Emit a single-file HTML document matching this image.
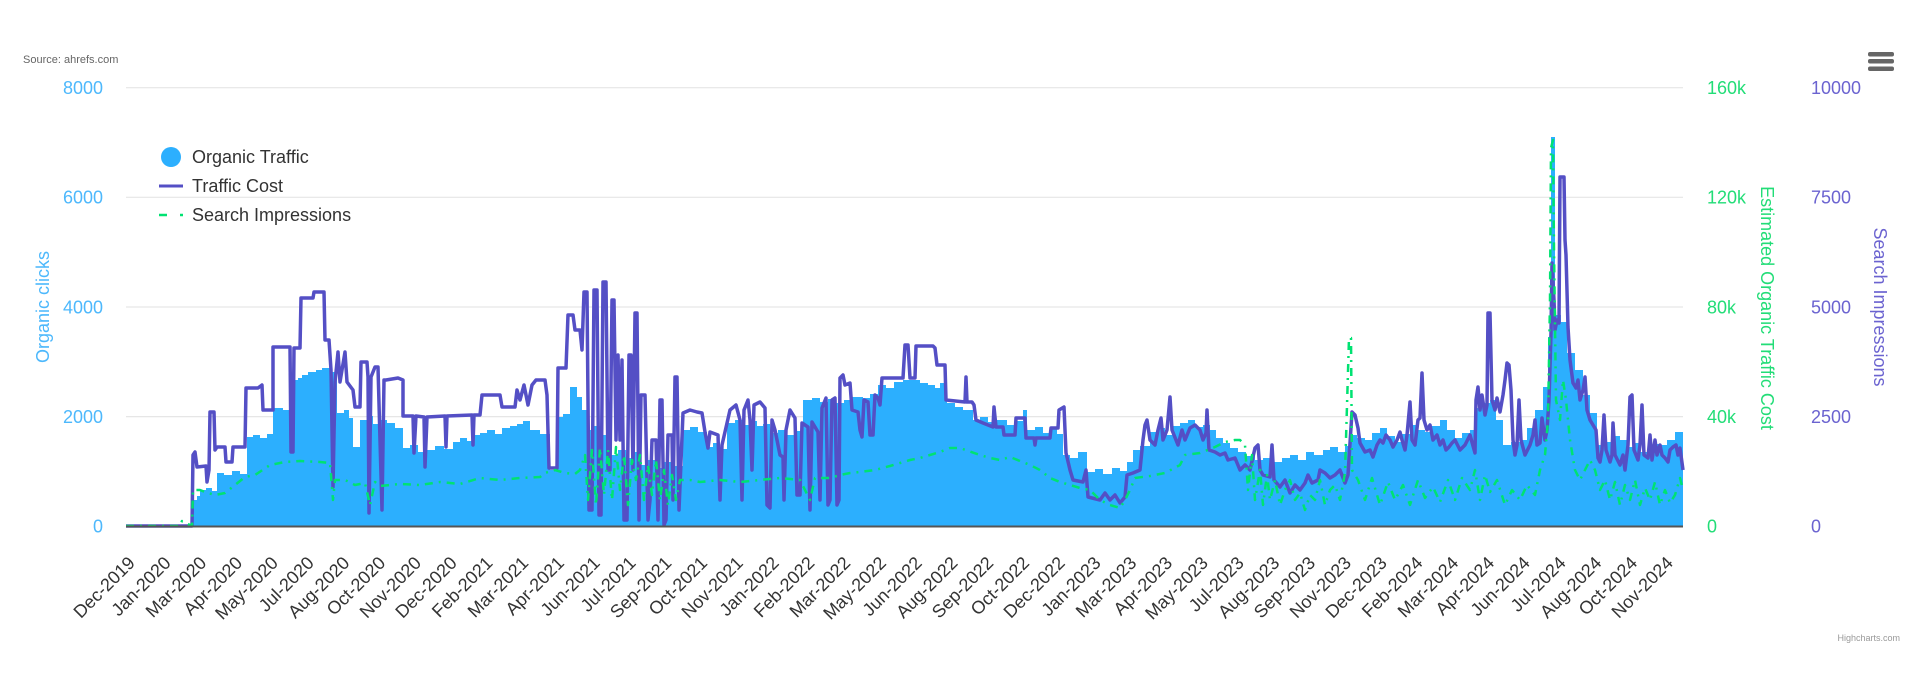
<!DOCTYPE html>
<html>
<head>
<meta charset="utf-8">
<style>
html,body{margin:0;padding:0;background:#fff;}
svg{display:block;font-family:"Liberation Sans",Arial,sans-serif;}
</style>
</head>
<body>
<svg width="1920" height="674" viewBox="0 0 1920 674" xmlns="http://www.w3.org/2000/svg">
<defs>
<pattern id="stripes" x="0" y="0" width="3" height="10" patternUnits="userSpaceOnUse">
<rect x="0" y="0" width="1" height="10" fill="#ffffff" fill-opacity="0.12"/>
</pattern>
</defs>
<rect width="1920" height="674" fill="#fff"/>

<text x="23" y="63" font-size="11" fill="#666">Source: ahrefs.com</text>

<!-- hamburger -->
<rect x="1868" y="52" width="26" height="4.5" rx="2" fill="#666"/>
<rect x="1868" y="59" width="26" height="4.5" rx="2" fill="#666"/>
<rect x="1868" y="66.5" width="26" height="4.5" rx="2" fill="#666"/>

<!-- gridlines -->
<g stroke="#e6e6e6" stroke-width="1.2">
<line x1="126" y1="87.7" x2="1683" y2="87.7"/>
<line x1="126" y1="197.3" x2="1683" y2="197.3"/>
<line x1="126" y1="307" x2="1683" y2="307"/>
<line x1="126" y1="416.6" x2="1683" y2="416.6"/>
</g>

<!-- left axis labels -->
<g font-size="18" fill="#4db8fc" text-anchor="end">
<text x="103" y="94">8000</text>
<text x="103" y="203.6">6000</text>
<text x="103" y="313.3">4000</text>
<text x="103" y="423">2000</text>
<text x="103" y="532.5">0</text>
</g>
<text transform="translate(49,307) rotate(-90)" font-size="18" fill="#4db8fc" text-anchor="middle">Organic clicks</text>

<!-- right green axis -->
<g font-size="18" fill="#22dd77">
<text x="1707" y="94">160k</text>
<text x="1707" y="203.6">120k</text>
<text x="1707" y="313.3">80k</text>
<text x="1707" y="423">40k</text>
<text x="1707" y="532.5">0</text>
</g>
<text transform="translate(1761,308) rotate(90)" font-size="18" fill="#22dd77" text-anchor="middle">Estimated Organic Traffic Cost</text>

<!-- right purple axis -->
<g font-size="18" fill="#6b63d0">
<text x="1811" y="94">10000</text>
<text x="1811" y="203.6">7500</text>
<text x="1811" y="313.3">5000</text>
<text x="1811" y="423">2500</text>
<text x="1811" y="532.5">0</text>
</g>
<text transform="translate(1874,307) rotate(90)" font-size="18" fill="#6b63d0" text-anchor="middle">Search Impressions</text>

<!-- blue columns (Organic Traffic) -->
<path id="bluearea" fill="#2caffe" d="M126,526 H193 V500 H197 V496 H200 V490 H206 V488 H212 V491 H217 V473 H224 V475 H232 V471 H240 V474 H247 V437 H253 V435 H260 V438 H267 V434 H273 V408 H283 V410 H293 V380 H298 V378 H302 V375 H308 V372 H316 V370 H322 V368 H330 V372 H337 V413 H344 V410 H349 V418 H353 V447 H360 V420 H367 V416 H373 V424 H380 V420 H387 V423 H395 V428 H403 V448 H410 V445 H418 V452 H427 V450 H435 V446 H444 V449 H453 V442 H460 V438 H467 V441 H473 V435 H480 V433 H487 V430 H495 V434 H502 V428 H510 V426 H517 V424 H523 V421 H530 V430 H540 V434 H550 V470 H557 V417 H563 V414 H570 V387 H577 V397 H582 V410 H587 V430 H594 V426 H602 V435 H610 V455 H618 V450 H626 V458 H633 V452 H640 V465 H648 V460 H656 V468 H664 V462 H672 V466 H683 V430 H690 V427 H698 V432 H707 V447 H713 V443 H720 V449 H727 V423 H735 V420 H743 V425 H750 V421 H757 V426 H763 V424 H770 V433 H778 V430 H786 V435 H795 V431 H803 V400 H812 V398 H820 V402 H828 V399 H836 V403 H844 V400 H852 V397 H863 V398 H870 V394 H878 V385 H886 V388 H894 V382 H903 V380 H913 V380 H920 V383 H928 V385 H935 V388 H940 V383 H947 V403 H955 V407 H963 V410 H973 V420 H980 V417 H988 V422 H997 V420 H1007 V425 H1015 V421 H1023 V410 H1027 V430 H1035 V427 H1043 V433 H1050 V429 H1057 V434 H1063 V455 H1070 V458 H1078 V452 H1087 V472 H1095 V469 H1103 V474 H1112 V468 H1120 V471 H1127 V462 H1133 V450 H1140 V446 H1150 V432 H1157 V428 H1165 V435 H1172 V426 H1180 V423 H1188 V420 H1195 V427 H1203 V425 H1210 V430 H1216 V438 H1223 V443 H1230 V448 H1238 V452 H1246 V456 H1255 V460 H1263 V458 H1273 V462 H1282 V458 H1290 V455 H1298 V460 H1306 V452 H1314 V455 H1323 V450 H1330 V447 H1338 V452 H1345 V446 H1350 V435 H1357 V438 H1365 V440 H1372 V433 H1380 V428 H1387 V436 H1395 V442 H1402 V434 H1410 V425 H1417 V430 H1425 V432 H1432 V426 H1440 V420 H1447 V430 H1455 V438 H1462 V433 H1470 V430 H1477 V408 H1483 V403 H1490 V400 H1496 V420 H1503 V445 H1511 V442 H1520 V440 H1527 V428 H1535 V410 H1543 V387 H1548 V337 H1551 V137 H1555 V315 H1561 V322 H1567 V353 H1575 V370 H1583 V395 H1590 V413 H1597 V445 H1605 V442 H1612 V436 H1620 V440 H1628 V447 H1634 V443 H1640 V452 H1648 V448 H1655 V444 H1660 V445 H1667 V440 H1675 V432 H1683 V526 Z"/>
<use href="#bluearea" fill="url(#stripes)"/>

<!-- purple line (Traffic Cost) -->
<polyline fill="none" stroke="#544fc5" stroke-width="3.5" stroke-linejoin="round" points="126,526 192,526 193,455 195,452 197,467 206,466 207,482 209,470 210,412 214,412 215,450 217,447 225,447 226,462 232,462 233,447 245,447 246,388 258,388 262,385 263,410 273,410 273,347 290,347 291,452 293,452 294,348 300,348 301,298 313,298 314,292 324,292 325,340 329,340 331,370 333,487 335,382 338,352 340,382 345,352 347,382 353,390 355,407 360,407 361,362 367,362 368,377 369,513 371,377 375,367 378,367 380,440 382,510 384,380 386,380 398,378 403,380 403,416 413,416 414,453 416,416 424,417 425,467 427,417 445,416 446,447 447,416 472,415 473,445 474,415 480,415 482,395 500,395 502,407 515,407 517,390 520,400 524,385 528,405 532,385 536,380 545,380 547,395 549,468 557,468 558,368 566,368 568,315 573,315 575,330 580,330 582,350 584,292 587,292 589,510 592,510 594,290 597,290 599,515 601,515 603,282 606,282 608,470 610,470 612,300 614,300 616,440 618,355 620,440 622,360 624,520 627,520 629,355 631,355 633,470 635,313 637,313 639,520 641,395 645,395 648,520 650,500 652,440 656,440 658,520 660,400 662,400 664,525 666,520 668,435 672,435 673,500 675,377 677,377 679,510 683,413 690,410 697,412 702,413 705,432 708,448 710,432 718,435 720,500 722,445 730,410 736,405 740,420 742,500 744,410 748,400 750,420 752,470 754,405 760,402 765,408 767,505 770,508 772,420 775,430 780,455 783,457 784,500 786,430 790,410 795,418 797,495 800,495 802,423 808,427 810,510 812,422 818,432 820,500 822,408 826,398 828,505 830,500 832,400 835,398 837,505 839,500 840,378 843,375 845,385 850,383 852,410 858,412 860,430 862,437 864,400 868,402 870,435 873,435 875,395 878,398 880,405 882,378 903,378 905,345 908,345 910,378 915,378 916,346 933,346 935,348 937,365 945,365 946,400 965,402 966,377 967,402 972,402 974,405 976,420 983,423 993,427 994,407 996,427 1003,427 1004,435 1015,435 1016,418 1025,418 1026,438 1034,438 1035,445 1036,438 1050,438 1051,428 1058,428 1059,410 1064,407 1066,453 1070,470 1073,480 1083,482 1086,470 1088,497 1100,500 1105,493 1110,500 1115,495 1120,503 1125,497 1127,475 1133,473 1140,470 1143,440 1145,425 1147,420 1150,440 1155,445 1158,430 1161,418 1163,440 1167,430 1170,397 1172,430 1178,445 1182,430 1185,440 1190,428 1195,425 1200,430 1203,440 1206,433 1207,410 1209,450 1215,452 1220,455 1225,453 1228,460 1235,458 1240,470 1245,465 1250,470 1255,448 1258,445 1260,470 1263,475 1270,477 1272,445 1274,480 1280,487 1285,480 1290,493 1295,485 1300,490 1305,483 1308,475 1312,483 1318,480 1320,470 1325,473 1330,478 1335,475 1340,470 1345,483 1348,475 1350,443 1352,412 1355,415 1358,428 1360,443 1365,452 1370,450 1373,457 1377,445 1380,440 1383,443 1386,435 1390,440 1393,447 1397,440 1400,432 1402,440 1405,450 1407,435 1410,402 1412,440 1415,445 1418,420 1420,418 1422,373 1424,420 1427,430 1430,425 1433,440 1437,435 1440,445 1443,440 1446,450 1449,447 1452,443 1455,440 1460,450 1465,445 1470,435 1475,453 1476,400 1478,387 1480,410 1482,395 1485,415 1487,405 1488,313 1490,313 1492,400 1495,410 1497,398 1500,412 1503,395 1505,380 1507,363 1509,365 1511,390 1513,440 1515,455 1517,445 1519,400 1521,440 1525,455 1530,445 1533,435 1535,420 1537,445 1540,443 1542,418 1545,440 1547,430 1549,400 1551,333 1552,263 1554,300 1555,330 1557,320 1559,323 1560,177 1564,177 1565,240 1566,255 1568,327 1570,360 1573,383 1576,388 1578,380 1580,400 1583,390 1585,377 1587,410 1590,420 1593,425 1596,430 1598,458 1600,462 1602,450 1604,415 1606,450 1610,462 1612,455 1613,423 1615,455 1620,465 1623,455 1625,470 1628,445 1630,397 1632,395 1634,450 1638,460 1640,445 1642,405 1644,455 1648,458 1650,435 1652,460 1655,440 1657,455 1660,445 1662,455 1665,458 1668,462 1670,450 1673,447 1676,445 1678,455 1680,448 1683,470"/>

<!-- green dash-dot line (Search Impressions) -->
<polyline fill="none" stroke="#00e272" stroke-width="2.5" stroke-dasharray="8,6,2,6" stroke-linejoin="round" points="126,526 180,526 182,521 192,526 193,490 200,490 205,492 215,495 225,493 235,485 245,477 255,475 270,465 285,462 300,461 320,462 330,463 333,500 335,480 345,480 355,485 365,483 370,505 375,482 380,486 400,484 420,485 440,482 460,484 480,478 500,480 520,478 540,477 545,473 555,470 565,473 575,474 580,470 585,455 588,500 592,450 596,505 600,448 604,495 608,450 612,500 616,447 620,490 624,455 628,505 632,460 636,480 640,455 644,500 648,465 652,495 656,460 660,500 664,470 668,505 672,475 676,500 680,480 690,480 700,482 720,480 740,482 760,480 780,478 800,480 810,500 815,478 830,478 840,475 850,473 860,472 875,470 890,466 900,463 910,460 920,458 930,455 940,452 950,448 960,448 980,455 990,458 1000,460 1010,457 1030,465 1040,470 1050,478 1060,482 1070,485 1080,488 1090,490 1100,500 1110,505 1120,508 1125,500 1130,490 1135,478 1150,476 1165,473 1180,465 1185,455 1200,453 1215,447 1225,442 1235,440 1240,440 1245,445 1248,490 1252,455 1255,500 1260,470 1263,505 1267,475 1270,500 1275,480 1280,505 1285,490 1290,480 1295,500 1300,493 1305,510 1310,495 1315,500 1320,480 1325,505 1330,490 1335,485 1340,500 1345,473 1349,338 1351,338 1352,470 1358,480 1365,500 1372,478 1380,505 1388,482 1395,500 1403,485 1410,505 1418,480 1425,498 1433,487 1440,502 1448,480 1455,500 1462,478 1470,490 1475,470 1480,500 1485,475 1490,492 1497,480 1505,505 1512,490 1520,500 1527,485 1535,495 1540,470 1545,455 1548,420 1550,300 1551,148 1553,140 1554,250 1556,400 1560,420 1563,380 1566,400 1570,440 1575,470 1580,480 1585,470 1590,460 1595,470 1600,490 1605,480 1610,500 1615,482 1620,505 1625,485 1630,500 1635,480 1640,505 1645,488 1650,500 1655,482 1660,505 1665,490 1670,503 1675,495 1680,478 1683,490"/>

<!-- x axis line -->
<line x1="126" y1="526.5" x2="1683" y2="526.5" stroke="#555" stroke-width="2"/>

<!-- x labels -->
<g font-size="18" fill="#333" text-anchor="end">
<text transform="translate(136.0,564) rotate(-45)">Dec-2019</text>
<text transform="translate(171.8,564) rotate(-45)">Jan-2020</text>
<text transform="translate(207.5,564) rotate(-45)">Mar-2020</text>
<text transform="translate(243.3,564) rotate(-45)">Apr-2020</text>
<text transform="translate(279.1,564) rotate(-45)">May-2020</text>
<text transform="translate(314.9,564) rotate(-45)">Jul-2020</text>
<text transform="translate(350.6,564) rotate(-45)">Aug-2020</text>
<text transform="translate(386.4,564) rotate(-45)">Oct-2020</text>
<text transform="translate(422.2,564) rotate(-45)">Nov-2020</text>
<text transform="translate(457.9,564) rotate(-45)">Dec-2020</text>
<text transform="translate(493.7,564) rotate(-45)">Feb-2021</text>
<text transform="translate(529.5,564) rotate(-45)">Mar-2021</text>
<text transform="translate(565.2,564) rotate(-45)">Apr-2021</text>
<text transform="translate(601.0,564) rotate(-45)">Jun-2021</text>
<text transform="translate(636.8,564) rotate(-45)">Jul-2021</text>
<text transform="translate(672.6,564) rotate(-45)">Sep-2021</text>
<text transform="translate(708.3,564) rotate(-45)">Oct-2021</text>
<text transform="translate(744.1,564) rotate(-45)">Nov-2021</text>
<text transform="translate(779.9,564) rotate(-45)">Jan-2022</text>
<text transform="translate(815.6,564) rotate(-45)">Feb-2022</text>
<text transform="translate(851.4,564) rotate(-45)">Mar-2022</text>
<text transform="translate(887.2,564) rotate(-45)">May-2022</text>
<text transform="translate(922.9,564) rotate(-45)">Jun-2022</text>
<text transform="translate(958.7,564) rotate(-45)">Aug-2022</text>
<text transform="translate(994.5,564) rotate(-45)">Sep-2022</text>
<text transform="translate(1030.3,564) rotate(-45)">Oct-2022</text>
<text transform="translate(1066.0,564) rotate(-45)">Dec-2022</text>
<text transform="translate(1101.8,564) rotate(-45)">Jan-2023</text>
<text transform="translate(1137.6,564) rotate(-45)">Mar-2023</text>
<text transform="translate(1173.3,564) rotate(-45)">Apr-2023</text>
<text transform="translate(1209.1,564) rotate(-45)">May-2023</text>
<text transform="translate(1244.9,564) rotate(-45)">Jul-2023</text>
<text transform="translate(1280.6,564) rotate(-45)">Aug-2023</text>
<text transform="translate(1316.4,564) rotate(-45)">Sep-2023</text>
<text transform="translate(1352.2,564) rotate(-45)">Nov-2023</text>
<text transform="translate(1388.0,564) rotate(-45)">Dec-2023</text>
<text transform="translate(1423.7,564) rotate(-45)">Feb-2024</text>
<text transform="translate(1459.5,564) rotate(-45)">Mar-2024</text>
<text transform="translate(1495.3,564) rotate(-45)">Apr-2024</text>
<text transform="translate(1531.0,564) rotate(-45)">Jun-2024</text>
<text transform="translate(1566.8,564) rotate(-45)">Jul-2024</text>
<text transform="translate(1602.6,564) rotate(-45)">Aug-2024</text>
<text transform="translate(1638.3,564) rotate(-45)">Oct-2024</text>
<text transform="translate(1674.1,564) rotate(-45)">Nov-2024</text>
</g>

<!-- legend -->
<circle cx="171" cy="157" r="10" fill="#2caffe"/>
<text x="192" y="163" font-size="18" fill="#333">Organic Traffic</text>
<line x1="159" y1="186" x2="183" y2="186" stroke="#544fc5" stroke-width="3"/>
<text x="192" y="192" font-size="18" fill="#333">Traffic Cost</text>
<line x1="159" y1="215" x2="167" y2="215" stroke="#00e272" stroke-width="2.5"/>
<line x1="180" y1="215" x2="183" y2="215" stroke="#00e272" stroke-width="2.5"/>
<text x="192" y="221" font-size="18" fill="#333">Search Impressions</text>

<text x="1900" y="641" font-size="9" fill="#999" text-anchor="end">Highcharts.com</text>
</svg>
</body>
</html>
